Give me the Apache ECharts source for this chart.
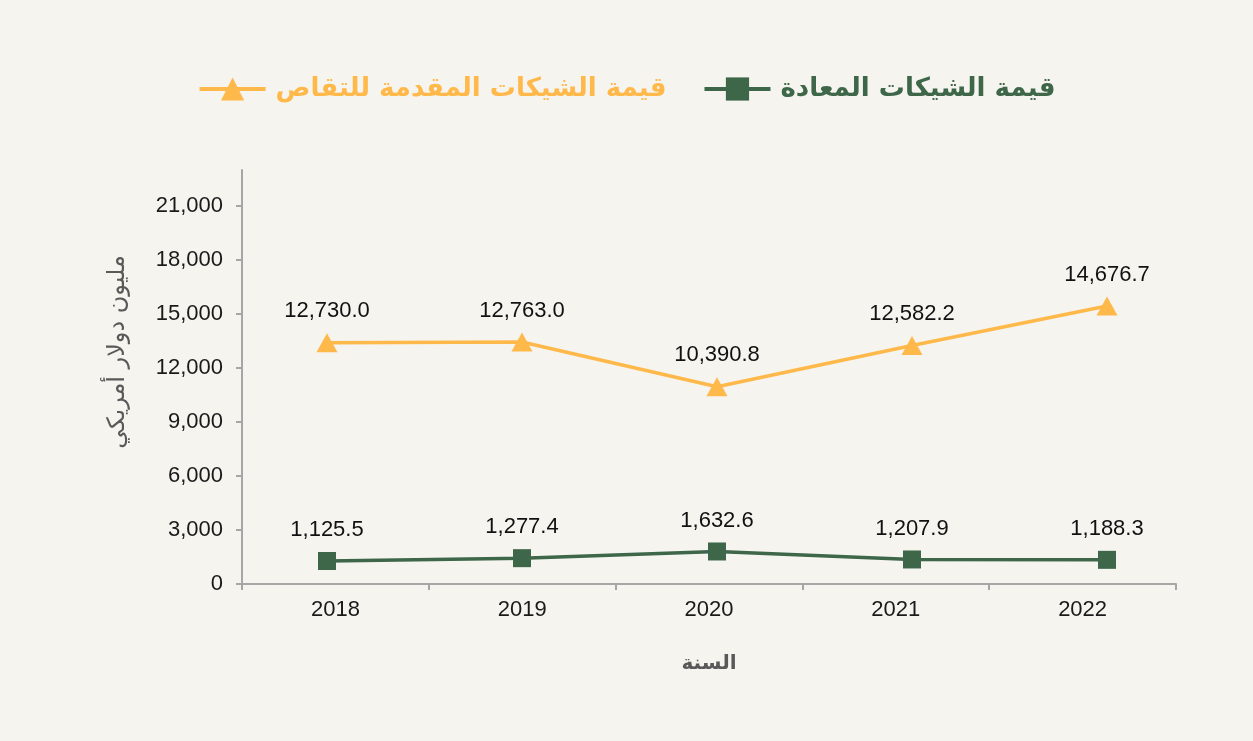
<!DOCTYPE html>
<html><head><meta charset="utf-8">
<script src="https://cdn.jsdelivr.net/npm/echarts@6/dist/echarts.min.js"></script>
<style>html,body{margin:0;padding:0;background:#f5f4ef;}#c{width:1253px;height:741px;}</style>
</head><body><div id="c"></div>
<script>
const years = ['2018','2019','2020','2021','2022'];
const returnedChecks = [1125.5, 1277.4, 1632.6, 1207.9, 1188.3];
const clearingChecks = [12730.0, 12763.0, 10390.8, 12582.2, 14676.7];
const yTicks = [0, 3000, 6000, 9000, 12000, 15000, 18000, 21000];
const nameReturned = 'قيمة الشيكات المعادة';
const nameClearing = 'قيمة الشيكات المقدمة للتقاص';
const yTitle = 'مليون دولار أمريكي';
const xTitle = 'السنة';

const GREEN = '#3e6649';
const ORANGE = '#ffb84a';
function fmt(v, d){
  const s = v.toFixed(d); const p = s.split('.');
  p[0] = p[0].replace(/\B(?=(\d{3})+(?!\d))/g, ',');
  return p.join('.');
}
const numFont = 'Liberation Sans, Arial, sans-serif';
const arFont = 'DejaVu Sans, Noto Sans, sans-serif';
const chart = echarts.init(document.getElementById('c'), null, {renderer:'canvas'});
chart.setOption({
  backgroundColor: '#f5f4ef',
  animation: false,
  legend: {
    left: 'center', top: 71, itemGap: 36,
    itemWidth: 66, itemHeight: 29,
    lineStyle: {width: 4},
    data: [
      {name: nameClearing, textStyle: {color: ORANGE}},
      {name: nameReturned, textStyle: {color: GREEN}}
    ],
    textStyle: {fontFamily: arFont, fontSize: 26, fontWeight: 'bold', padding: [0, 0, 0, 5]}
  },
  grid: [
    {left: 242, top: 170, width: 934, height: 414},
    {left: 229.5, top: 187.1, width: 975, height: 395.1}
  ],
  xAxis: [
    {type: 'category', gridIndex: 0, data: years, boundaryGap: true,
     axisLine: {lineStyle: {color: '#a6a6a6', width: 2}},
     axisTick: {show: true, interval: 0, length: 6, lineStyle: {color: '#a6a6a6', width: 2}},
     axisLabel: {margin: 15, fontSize: 22, color: '#1a1a1a', fontFamily: numFont},
     name: xTitle, nameLocation: 'middle', nameGap: 70,
     nameTextStyle: {fontSize: 20, fontWeight: 'bold', color: '#595959', fontFamily: arFont}
    },
    {type: 'category', gridIndex: 1, data: years, show: false}
  ],
  yAxis: [
    {type: 'value', gridIndex: 0, min: 0, max: 23000, interval: 3000,
     splitLine: {show: false},
     axisLine: {show: true, lineStyle: {color: '#a6a6a6', width: 2}},
     axisTick: {show: true, length: 6, customValues: yTicks, lineStyle: {color: '#a6a6a6', width: 2}},
     axisLabel: {margin: 19, fontSize: 22, color: '#1a1a1a', fontFamily: numFont,
                 customValues: yTicks, formatter: v => fmt(v, 0)},
     name: yTitle, nameLocation: 'middle', nameGap: 112, nameRotate: 90,
     nameTextStyle: {fontSize: 24, fontWeight: 'normal', color: '#595959', fontFamily: arFont,
                     padding: [0, 0, 0, 50]}
    },
    {type: 'value', gridIndex: 1, min: 0, max: 21000, show: false, splitLine: {show: false}}
  ],
  series: [
    {name: nameClearing, type: 'line', xAxisIndex: 1, yAxisIndex: 1, data: clearingChecks,
     symbol: 'triangle', symbolSize: [21, 19], itemStyle: {color: ORANGE},
     lineStyle: {color: ORANGE, width: 3.5},
     label: {show: true, position: 'top', distance: 11, fontSize: 22, color: '#111',
             fontFamily: numFont, formatter: p => fmt(p.value, 1)}
    },
    {name: nameReturned, type: 'line', xAxisIndex: 1, yAxisIndex: 1, data: returnedChecks,
     symbol: 'rect', symbolSize: 18, itemStyle: {color: GREEN},
     lineStyle: {color: GREEN, width: 3.5},
     label: {show: true, position: 'top', distance: 11, fontSize: 22, color: '#111',
             fontFamily: numFont, formatter: p => fmt(p.value, 1)}
    }
  ]
});
</script></body></html>
